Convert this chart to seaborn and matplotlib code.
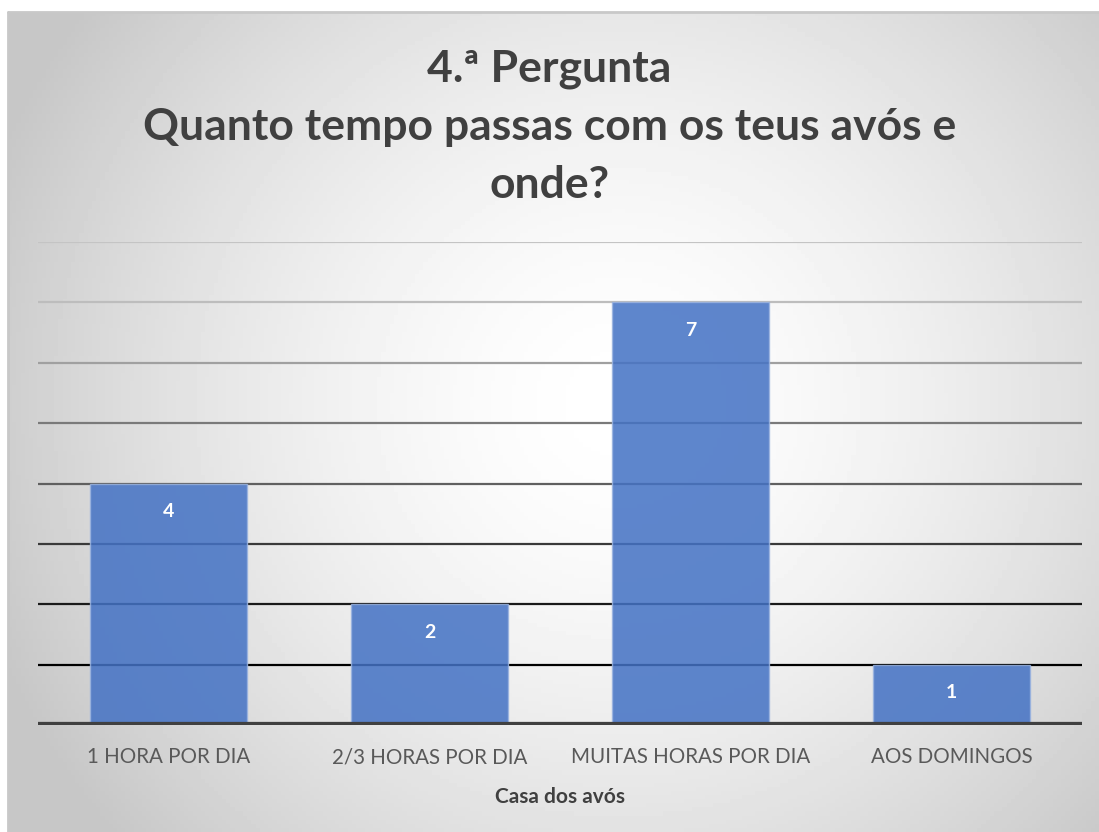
import numpy as np
import pandas as pd
import matplotlib
matplotlib.use("Agg")
import matplotlib.pyplot as plt
import seaborn as sns

categories = ["1 HORA POR DIA", "2/3 HORAS POR DIA", "MUITAS HORAS POR DIA", "AOS DOMINGOS"]
values = [4, 2, 7, 1]
title = "4.ª Pergunta\nQuanto tempo passas com os teus avós e\nonde?"
xlabel = "Casa dos avós"

sns.set_theme(style="white")
plt.rcParams["font.family"] = ["Lato", "DejaVu Sans"]

W, H = 1099, 832
fig = plt.figure(figsize=(W / 100, H / 100), dpi=100)
fig.patch.set_facecolor("white")

# radial gradient background of the chart area
bg = fig.add_axes([8 / W, 0, 1 - 8 / W, 1 - 12 / H])
yy, xx = np.mgrid[0:200, 0:260]
cx, cy = 145, 95
r = np.sqrt(((xx - cx) / 150) ** 2 + ((yy - cy) / 150) ** 2)
shade = np.clip(1 - 0.2 * r ** 1.6, 0.78, 1)
bg.imshow(shade, cmap="gray", vmin=0, vmax=1, aspect="auto", extent=[0, 1, 0, 1])
bg.set_axis_off()
for sx, sy in [([0, 0], [0, 1]), ([0, 1], [1, 1])]:
    bg.plot(sx, sy, color="#c8c8c8", lw=2, transform=bg.transAxes, clip_on=False)

ax = fig.add_axes([38 / W, 1 - 725 / H, (1082 - 38) / W, (725 - 242) / H])
ax.patch.set_alpha(0)

grid_colors = ["#000000", "#1a1a1a", "#3a3a3a", "#606060", "#7a7a7a", "#a0a0a0", "#bdbdbd", "#c4c4c4"]
for lvl, c in zip(range(1, 9), grid_colors):
    ax.axhline(lvl, color=c, lw=1.6, zorder=1)

df = pd.DataFrame({"cat": categories, "val": values})
sns.barplot(data=df, x="cat", y="val", color="#4472C4", width=0.6, alpha=0.86,
            edgecolor="#9ab3e0", linewidth=1, saturation=1, ax=ax, zorder=2)

for p, v in zip(ax.patches, values):
    ax.annotate(str(v), (p.get_x() + p.get_width() / 2, v), xytext=(0, -28),
                textcoords="offset pixels",
                ha="center", va="center", color="white", fontsize=14, fontweight="bold")

ax.set_ylim(0, 8)
ax.set_xlim(-0.5, 3.5)
ax.set_yticks([])
ax.axhline(0, color="#404040", lw=4.5, zorder=3)
for s in ax.spines.values():
    s.set_visible(False)
ax.tick_params(axis="x", length=0, pad=16, labelsize=14.8, labelcolor="#595959")
ax.set_xlabel(xlabel, fontsize=15, fontweight="bold", color="#404040", labelpad=14)
ax.set_ylabel("")

fig.text(0.5, 1 - 127 / H, title, ha="center", va="center", fontsize=32,
         fontweight="bold", color="#404040", linespacing=1.55)

fig.savefig("out.png", dpi=100)
